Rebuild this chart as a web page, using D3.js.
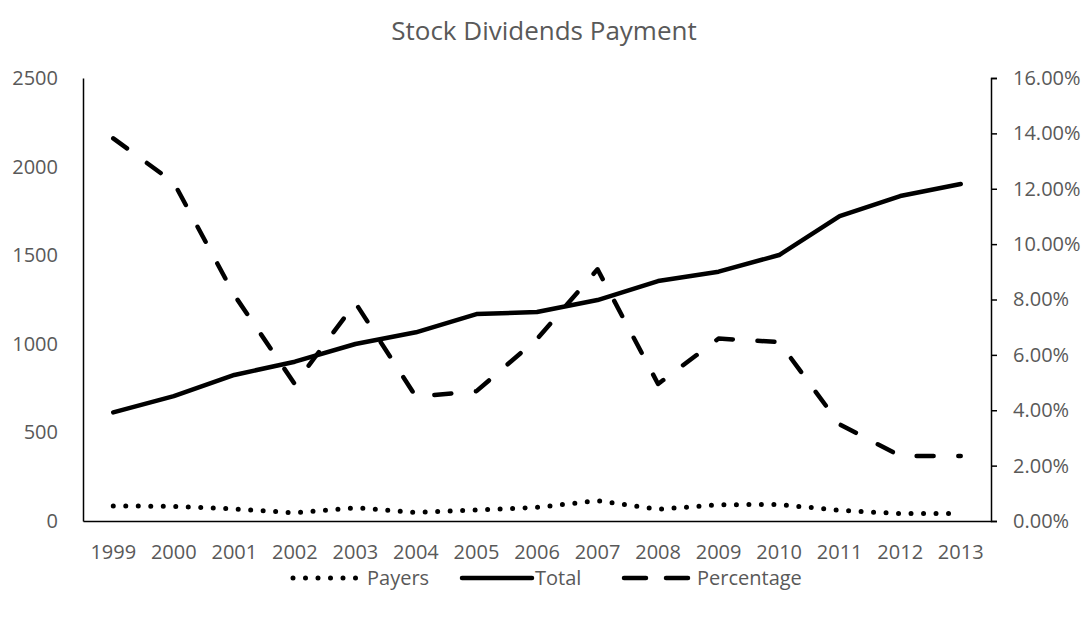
<!DOCTYPE html>
<html><head><meta charset="utf-8">
<script src="https://cdn.jsdelivr.net/npm/d3@7"></script>
<style>body{margin:0;background:#fff}text{font-family:"Open Sans",sans-serif;fill:#595959}</style>
</head><body><svg id="c" width="1091" height="619"></svg>
<script>
const years = ["1999","2000","2001","2002","2003","2004","2005","2006","2007","2008","2009","2010","2011","2012","2013"];
const payers = [85,83,68,46,75,48,62,77,115,66,92,93,60,42,43];
const total = [613,705,824,899,999,1065,1168,1179,1247,1354,1407,1501,1721,1834,1902];
const percentage = [0.1382,0.1222,0.0816,0.0494,0.0788,0.0449,0.0469,0.0657,0.0909,0.0495,0.0659,0.0646,0.0349,0.0235,0.0235];
const leftTicks = [0,500,1000,1500,2000,2500];
const rightTicks = [0,0.02,0.04,0.06,0.08,0.10,0.12,0.14,0.16];

const svg = d3.select("#c");
const L = 83, R = 991, T = 78, B = 521;
const x = d3.scaleBand().domain(years).range([L, R]);
const cx = d => x(d) + x.bandwidth()/2;
const yL = d3.scaleLinear().domain([0,2500]).range([B,T]);
const yR = d3.scaleLinear().domain([0,0.16]).range([B,T]);

svg.append("text").attr("x",544).attr("y",40).attr("text-anchor","middle")
  .style("font-size","26px").text("Stock Dividends Payment");

const fs = "20px";
// left axis
const gl = svg.append("g").attr("transform",`translate(${L},0)`)
  .call(d3.axisLeft(yL).tickValues(leftTicks).tickSize(0).tickPadding(25).tickFormat(d3.format("d")));
gl.select(".domain").attr("stroke","#000").attr("stroke-width",1.5);
gl.selectAll("text").style("font-size",fs).style("fill","#595959").style("font-family","Open Sans");

// right axis
const gr = svg.append("g").attr("transform",`translate(${R},0)`)
  .call(d3.axisRight(yR).tickValues(rightTicks).tickSize(6).tickSizeOuter(6).tickPadding(16).tickFormat(d3.format(".2%")));
gr.select(".domain").attr("stroke","#000").attr("stroke-width",1.5);
gr.selectAll(".tick line").attr("stroke","#000").attr("stroke-width",1.5);
gr.selectAll("text").style("font-size",fs).style("fill","#595959").style("font-family","Open Sans");

// x axis
const gx = svg.append("g").attr("transform",`translate(0,${B})`)
  .call(d3.axisBottom(x).tickSize(0).tickPadding(24).tickSizeOuter(0));
gx.select(".domain").attr("stroke","#000").attr("stroke-width",1.5);
gx.selectAll("text").style("font-size",fs).style("fill","#595959").style("font-family","Open Sans");

const lineL = d3.line().x((d,i)=>cx(years[i])).y(d=>yL(d));
const lineR = d3.line().x((d,i)=>cx(years[i])).y(d=>yR(d));

const styles = {
  payers: {w:5, dash:"0,12.5"},
  total: {w:4.5, dash:null},
  pct: {w:4.5, dash:"17,24.7"}
};
function styleIt(sel, s){
  sel.attr("fill","none").attr("stroke","#000").attr("stroke-width",s.w)
    .attr("stroke-linecap","round").attr("stroke-linejoin","round");
  if (s.dash) sel.attr("stroke-dasharray", s.dash);
  return sel;
}
styleIt(svg.append("path").attr("d", lineL(payers)), styles.payers);
styleIt(svg.append("path").attr("d", lineL(total)), styles.total);
styleIt(svg.append("path").attr("d", lineR(percentage)), styles.pct);

// legend
const ly = 578;
const legend = [
  {name:"Payers", s:styles.payers, x0:293, x1:358, tx:367},
  {name:"Total", s:styles.total, x0:462, x1:532, tx:535},
  {name:"Percentage", s:styles.pct, x0:624, x1:690, tx:697}
];
legend.forEach(l=>{
  const p = svg.append("line").attr("x1",l.x0).attr("x2",l.x1).attr("y1",ly).attr("y2",ly);
  styleIt(p, l.s);
  if (l.name==="Percentage") p.attr("stroke-dasharray","22,20");
  svg.append("text").attr("x",l.tx).attr("y",ly).attr("dy","0.35em").style("font-size",fs).text(l.name);
});
</script></body></html>
